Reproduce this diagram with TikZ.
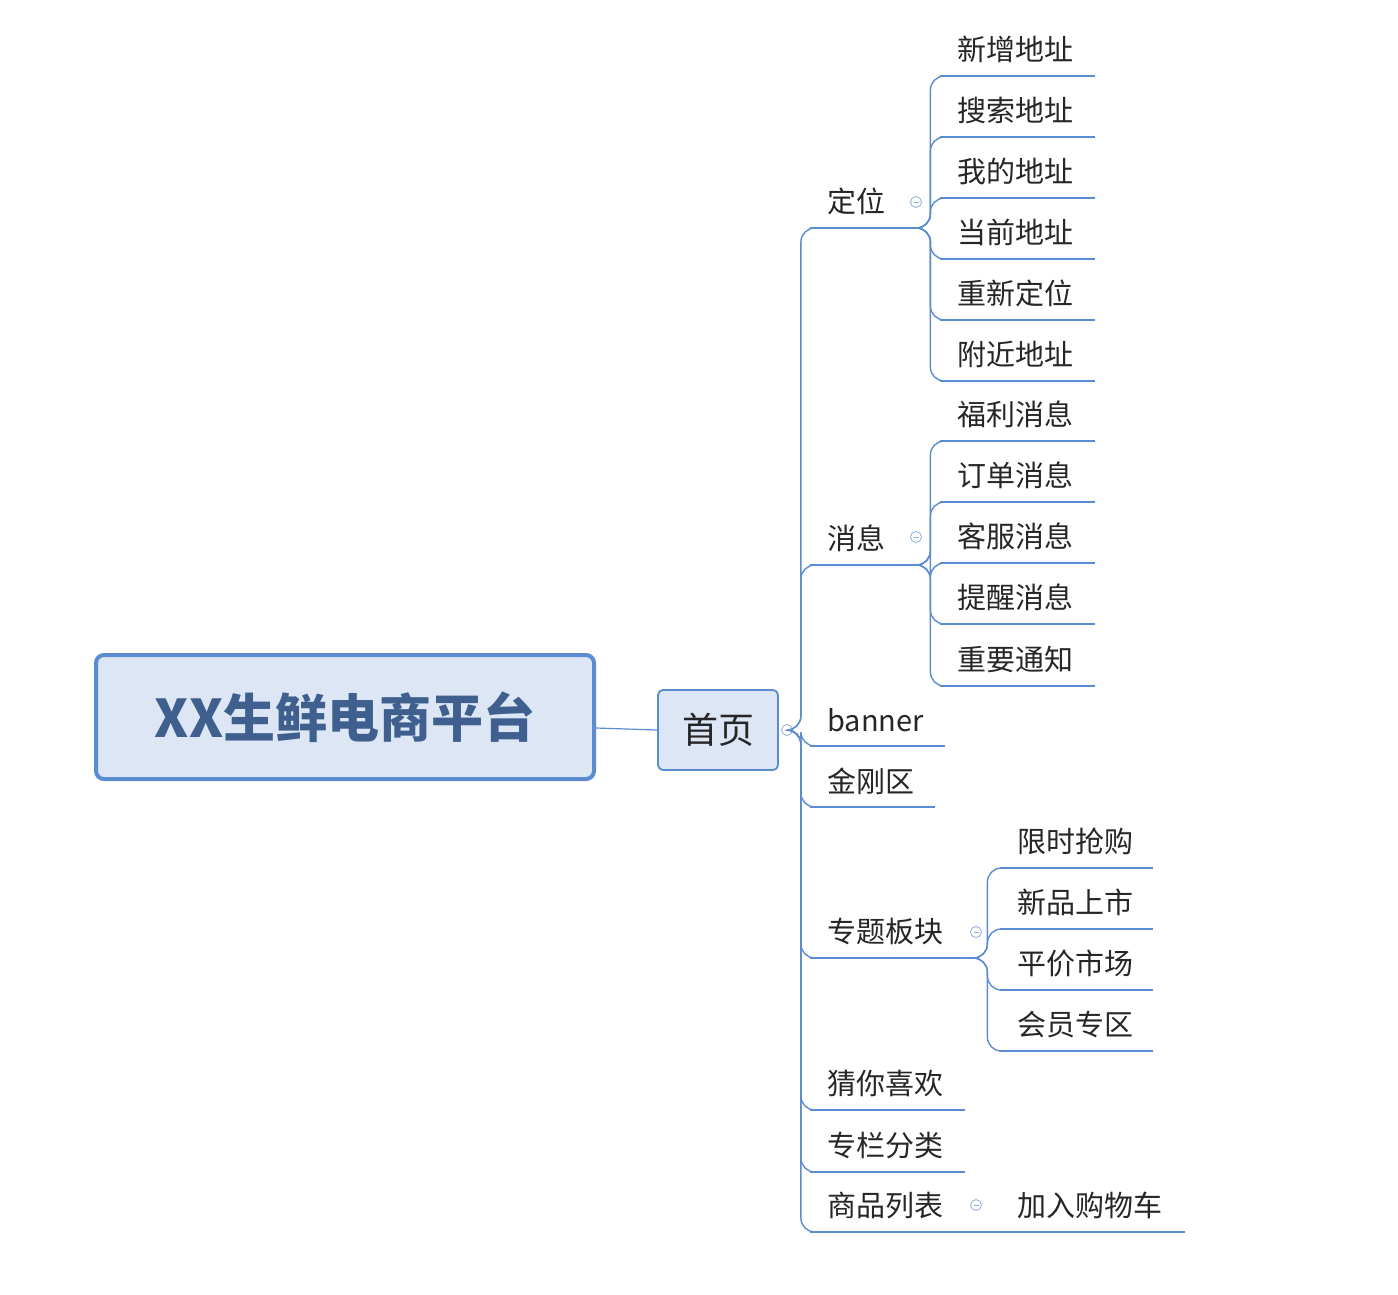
\documentclass[tikz,border=0pt]{standalone}
\usepackage{fontspec}
\setmainfont{Noto Sans CJK SC}
\definecolor{ln}{HTML}{5B8BD0}
\definecolor{fillb}{HTML}{DCE6F4}
\definecolor{txt}{HTML}{3F5F8F}
\tikzset{
  itm/.style={anchor=south west,inner xsep=17pt,inner ysep=0pt,minimum height=52pt,align=left,font=\fontsize{29}{31}\selectfont,text=black!85},
  ul/.style={draw=ln,line width=2.6pt},
  br/.style={draw=ln,line width=1.4pt,rounded corners=14pt},
  col/.style={circle,draw=ln!70,line width=0.8pt,minimum size=11pt,inner sep=0pt,fill=white,
    path picture={\draw[ln!70,line width=0.8pt](path picture bounding box.west)++(3pt,0)--++(5pt,0);}}
}
\newcommand{\mmitem}[5]{%
  \node[itm,text width={#3-#2-34}] (#1) at (#2,#4) {#5};
  \draw[ul] (#1.south west) -- (#1.south east);}
\begin{document}
\begin{tikzpicture}[x=1pt,y=-1pt]
\useasboundingbox (0,0) rectangle (1398,1294);
\node[draw=ln,line width=4pt,rounded corners=8pt,fill=fillb,minimum width=498pt,minimum height=124pt,
  font=\fontsize{52}{56}\selectfont\bfseries,text=txt] (root) at (345,717) {XX生鲜电商平台};
\node[draw=ln,line width=1.8pt,rounded corners=5pt,fill=fillb,minimum width=120pt,minimum height=80pt,
  font=\fontsize{36}{40}\selectfont,text=black!85] (home) at (718,730) {首页};
\draw[ln,line width=1.2pt] ([yshift=-11pt]root.east) -- (home.west);
% level 1
\mmitem{dw}{810}{905}{228}{定位}
\mmitem{xx}{810}{905}{565}{消息}
\mmitem{bn}{810}{945}{746}{banner}
\mmitem{jg}{810}{935}{807}{金刚区}
\mmitem{zt}{810}{965}{958}{专题板块}
\mmitem{cn}{810}{965}{1110}{猜你喜欢}
\mmitem{zl}{810}{965}{1172}{专栏分类}
\mmitem{sp}{810}{965}{1232}{商品列表}
\node[col] (c0) at (787,730) {};
\foreach \n in {dw,xx,bn,jg,zt,cn,zl,sp}
  \draw[br] (c0.east) -- ++(8,0) |- (\n.south west);
% 定位 children
\mmitem{a1}{940}{1095}{76}{新增地址}
\mmitem{a2}{940}{1095}{137}{搜索地址}
\mmitem{a3}{940}{1095}{198}{我的地址}
\mmitem{a4}{940}{1095}{259}{当前地址}
\mmitem{a5}{940}{1095}{320}{重新定位}
\mmitem{a6}{940}{1095}{381}{附近地址}
\node[col] (c1) at (916,202) {};
\foreach \n in {a1,a2,a3,a4,a5,a6}
  \draw[br] (dw.south east) -- ++(25,0) |- (\n.south west);
% 消息 children
\mmitem{b1}{940}{1095}{441}{福利消息}
\mmitem{b2}{940}{1095}{502}{订单消息}
\mmitem{b3}{940}{1095}{563}{客服消息}
\mmitem{b4}{940}{1095}{624}{提醒消息}
\mmitem{b5}{940}{1095}{686}{重要通知}
\node[col] (c2) at (916,537) {};
\foreach \n in {b1,b2,b3,b4,b5}
  \draw[br] (xx.south east) -- ++(25,0) |- (\n.south west);
% 专题板块 children
\mmitem{d1}{1000}{1153}{868}{限时抢购}
\mmitem{d2}{1000}{1153}{929}{新品上市}
\mmitem{d3}{1000}{1153}{990}{平价市场}
\mmitem{d4}{1000}{1153}{1051}{会员专区}
\node[col] (c3) at (976,932) {};
\foreach \n in {d1,d2,d3,d4}
  \draw[br] (zt.south east) -- ++(22,0) |- (\n.south west);
% 商品列表 child
\mmitem{e1}{1000}{1185}{1232}{加入购物车}
\node[col] (c4) at (976,1205) {};
\draw[br] (sp.south east) -- (e1.south west);
\end{tikzpicture}
\end{document}
